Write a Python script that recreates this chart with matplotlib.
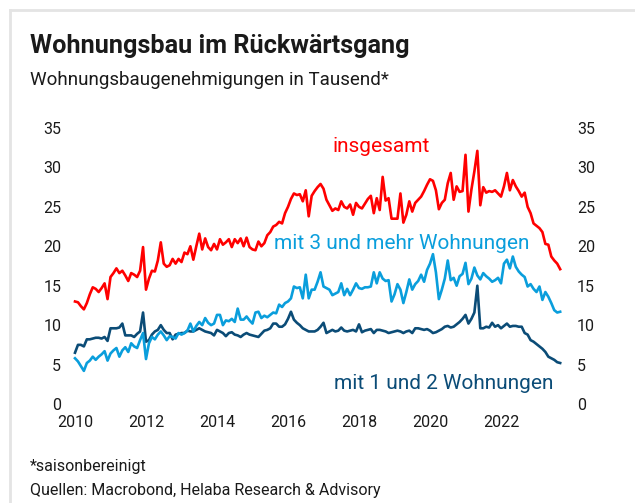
import matplotlib
matplotlib.use("Agg")
import matplotlib.pyplot as plt
from matplotlib.lines import Line2D
import numpy as np

# ---- data (monthly, Jan 2010 - Sep 2023), thousands, seasonally adjusted ----
start_year = 2010
insgesamt = [
    13.0, 12.9, 12.4, 12.0, 12.8, 13.9, 14.8, 14.6, 14.2, 14.7, 15.3, 13.3,
    16.1, 16.6, 17.2, 16.6, 16.9, 16.3, 15.6, 16.6, 16.4, 16.1, 16.9, 19.9,
    14.5, 15.9, 16.9, 16.8, 18.2, 20.5, 17.8, 17.4, 17.6, 18.4, 17.8, 18.4,
    18.0, 19.2, 19.0, 20.0, 18.3, 20.0, 21.6, 19.6, 21.0, 19.9, 19.5, 20.3,
    19.6, 20.9, 20.2, 20.5, 20.9, 19.9, 20.9, 20.4, 21.0, 20.0, 21.1, 19.9,
    19.6, 19.5, 20.6, 20.0, 20.4, 21.4, 21.8, 22.5, 22.7, 23.1, 22.9, 24.2,
    25.0, 26.0, 26.7, 26.5, 26.6, 25.7, 27.1, 23.8, 26.4, 27.0, 27.5, 27.9,
    27.3, 25.9, 25.2, 24.5, 24.8, 24.6, 25.7, 25.0, 24.8, 25.3, 24.0, 25.5,
    25.0, 24.8, 25.4, 26.0, 26.4, 24.2, 26.1, 24.6, 28.8, 25.8, 26.1, 23.5,
    23.5, 23.5, 26.7, 23.0, 24.0, 25.7, 24.4, 25.5, 25.9, 26.3, 27.0, 27.8,
    28.5, 28.3, 27.1, 24.7, 25.5, 25.9, 28.0, 29.3, 25.9, 27.6, 26.9, 27.0,
    31.6, 24.4, 27.2, 29.5, 32.1, 25.2, 27.5, 26.8, 27.0, 26.9, 27.1, 26.7,
    26.3, 27.6, 29.3, 27.1, 28.4, 27.6, 27.0, 26.3, 26.8, 25.0, 24.2, 22.9,
    22.6, 22.3, 21.8, 20.3, 20.2, 18.7, 18.2, 17.8, 17.1,
]
mehrfam = [
    5.8, 5.4, 4.8, 4.2, 5.2, 5.5, 6.0, 5.6, 6.0, 6.3, 6.7, 5.5,
    6.4, 6.8, 7.1, 6.0, 6.8, 7.2, 6.6, 7.7, 7.3, 7.1, 8.1, 9.0,
    5.7, 7.7, 8.5, 8.2, 8.8, 9.2, 8.7, 8.1, 8.6, 8.5, 8.3, 9.0,
    8.8, 9.0, 9.3, 10.2, 9.2, 9.9, 10.4, 10.0, 10.9, 10.3, 10.0, 10.2,
    11.3, 11.3, 10.0, 10.6, 10.5, 10.8, 10.4, 12.1, 10.7, 10.7, 11.1, 10.6,
    10.2, 11.6, 11.7, 10.9, 11.2, 11.0, 11.3, 11.6, 11.5, 12.6, 12.3, 12.8,
    13.0, 13.4, 14.9, 14.7, 14.8, 13.4, 16.4, 13.4, 14.5, 14.5, 15.5, 16.7,
    14.9, 14.7, 14.5, 13.8, 14.0, 14.2, 15.3, 13.8, 14.6, 13.8, 14.5, 15.3,
    14.7, 14.6, 14.8, 14.8, 14.9, 16.7, 15.3, 16.7, 15.9, 15.6, 15.7, 13.0,
    13.9, 15.2, 14.5, 12.8, 14.2, 15.8, 14.5, 15.2, 15.6, 16.4, 15.5, 17.0,
    17.8, 19.0, 16.7, 13.3, 14.5, 15.9, 18.2, 15.7, 16.0, 15.0, 16.2, 16.5,
    17.9, 15.2, 15.9, 17.3, 16.3, 15.8, 16.6, 16.2, 15.9, 15.5, 15.7, 16.0,
    15.3, 17.8, 18.3, 17.2, 18.7, 17.4, 16.8, 16.4, 16.1, 14.9, 15.2, 14.6,
    14.2, 14.9, 13.2, 14.2, 13.6, 12.8, 11.9, 11.6, 11.7,
]
einzwei = [
    6.5, 7.5, 7.5, 7.3, 8.2, 8.2, 8.3, 8.4, 8.4, 8.3, 8.5, 8.0,
    9.6, 9.6, 9.6, 9.7, 10.2, 8.7, 8.7, 8.7, 8.5, 8.9, 9.2, 11.6,
    7.9, 8.1, 8.8, 9.2, 9.4, 10.0, 9.4, 9.0, 9.0, 8.2, 8.8, 8.9,
    9.0, 9.0, 9.3, 9.2, 9.2, 9.4, 9.6, 9.4, 9.2, 9.1, 9.0, 8.7,
    9.4, 9.2, 9.0, 8.6, 9.0, 9.1, 8.8, 8.7, 8.5, 8.8, 9.0, 8.8,
    8.7, 8.6, 8.5, 8.9, 9.3, 9.4, 9.6, 10.2, 10.2, 9.8, 9.8, 10.1,
    10.8, 11.7, 10.7, 10.3, 10.0, 9.6, 9.4, 9.2, 9.2, 9.2, 9.4, 9.8,
    10.3, 9.0, 9.2, 9.4, 9.2, 9.3, 9.7, 9.3, 9.2, 9.3, 9.4, 9.2,
    10.1, 9.1, 9.3, 9.4, 9.5, 9.0, 9.4, 9.4, 9.3, 9.2, 9.0, 9.1,
    9.2, 9.3, 9.2, 9.0, 9.2, 9.3, 9.0, 9.6, 9.6, 9.5, 9.4, 9.5,
    9.3, 9.0, 9.1, 9.3, 9.5, 9.8, 9.9, 9.7, 9.8, 10.1, 10.4, 10.8,
    11.3, 10.2, 10.8, 11.6, 15.0, 9.6, 9.6, 9.8, 9.7, 10.3, 9.8, 10.0,
    9.6, 9.9, 10.2, 9.8, 9.9, 9.9, 9.8, 9.8, 9.0, 8.8, 8.1, 7.9,
    7.6, 7.3, 7.0, 6.6, 6.0, 5.8, 5.6, 5.3, 5.2,
]
year_ticks = [2010, 2012, 2014, 2016, 2018, 2020, 2022]
y_ticks = [0, 5, 10, 15, 20, 25, 30, 35]
series_labels = ["insgesamt", "mit 3 und mehr Wohnungen", "mit 1 und 2 Wohnungen"]
title = "Wohnungsbau im Rückwärtsgang"
subtitle = "Wohnungsbaugenehmigungen in Tausend*"
footnote = "*saisonbereinigt"
source = "Quellen: Macrobond, Helaba Research & Advisory"

# ---- style ----
RED = "#FF0000"
LBLUE = "#0A9EDC"
DBLUE = "#0B4C77"
TXT = "#1A1A1A"
FONT = ["Roboto", "DejaVu Sans"]
plt.rcParams["font.family"] = FONT

W, H = 635, 503
fig = plt.figure(figsize=(W / 100, H / 100), dpi=100)
fig.patch.set_facecolor("white")

def fx(px):
    return px / W

def fy(py):
    return 1 - py / H

# light grey frame (top and left)
fig.add_artist(Line2D([fx(10), fx(W)], [fy(10), fy(10)], color="#E4E4E4", lw=2.0,
                      transform=fig.transFigure))
fig.add_artist(Line2D([fx(10), fx(10)], [fy(10), fy(H)], color="#E4E4E4", lw=2.0,
                      transform=fig.transFigure))

ax_l, ax_r, ax_t, ax_b = 70, 568, 128, 404
ax = fig.add_axes([fx(ax_l), fy(ax_b), fx(ax_r - ax_l), (ax_b - ax_t) / H])

n = len(insgesamt)
x = start_year + np.arange(n) / 12.0
lw = 1.9
ax.plot(x, einzwei, color=DBLUE, lw=lw, solid_joinstyle="round")
ax.plot(x, mehrfam, color=LBLUE, lw=lw, solid_joinstyle="round")
ax.plot(x, insgesamt, color=RED, lw=lw, solid_joinstyle="round")

x0 = 2010 - (75 - ax_l) / 35.5
x1 = 2010 + (ax_r - 75) / 35.5
ax.set_xlim(x0, x1)
ax.set_ylim(0, 35)
for s in ax.spines.values():
    s.set_visible(False)
ax.set_xticks(year_ticks)
ax.set_xticklabels([str(t) for t in year_ticks])
ax.set_yticks(y_ticks)
ax.tick_params(axis="both", length=0, labelsize=11.5, colors=TXT)
ax.tick_params(axis="x", pad=8)
ax.tick_params(axis="y", pad=6.3, labelright=True, right=False)

# series labels
ax.text(2018.63, 32.6, series_labels[0], color=RED, fontsize=15, ha="center", va="center")
ax.text(2019.21, 20.3, series_labels[1], color=LBLUE, fontsize=15, ha="center", va="center")
ax.text(2020.38, 2.66, series_labels[2], color=DBLUE, fontsize=15, ha="center", va="center")

# titles and notes
fig.text(fx(30), fy(46), title, fontsize=18.2, fontweight="bold", color=TXT,
         ha="left", va="center")
fig.text(fx(30), fy(80), subtitle, fontsize=13.5, color=TXT, ha="left", va="center")
fig.text(fx(30), fy(466), footnote, fontsize=11.5, color=TXT, ha="left", va="center")
fig.text(fx(30), fy(491), source, fontsize=11.5, color=TXT, ha="left", va="center")

fig.savefig("out.png", dpi=100, facecolor="white")
